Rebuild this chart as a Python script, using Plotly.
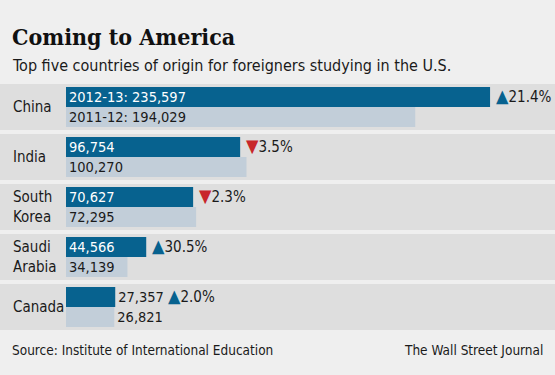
import plotly.graph_objects as go

countries = ["China", "India", "South<br>Korea", "Saudi<br>Arabia", "Canada"]
values_2012_13 = [235597, 96754, 70627, 44566, 27357]
values_2011_12 = [194029, 100270, 72295, 34139, 26821]
year_new = "2012-13"
year_old = "2011-12"

title = "Coming to America"
subtitle = "Top five countries of origin for foreigners studying in the U.S."
source = "Source: Institute of International Education"
credit = "The Wall Street Journal"

W, H = 555, 375
TOP, BOT = 82, 332
DARK = "#07628f"
LIGHT = "#c2ced9"
BAND = "#dedede"
BG = "#efefef"
RED = "#c8262b"
TXT = "#1a1a1a"
SANS = "DejaVu Sans Condensed, Roboto, sans-serif"
SERIF = "DejaVu Serif Condensed, DejaVu Serif, serif"

ypos = list(range(len(countries)))

def py(px):
    return (BOT - px) / (BOT - TOP)

new_text = [f"{year_new}: {values_2012_13[0]:,}"] + [f"{v:,}" for v in values_2012_13[1:]]
old_text = [f"{year_old}: {values_2011_12[0]:,}"] + [f"{v:,}" for v in values_2011_12[1:]]
pos = ["inside"] * (len(countries) - 1) + ["outside"]

fig = go.Figure()
fig.add_trace(go.Bar(
    y=ypos, x=values_2012_13, orientation="h", marker=dict(color=DARK, line=dict(width=0)),
    text=new_text, textposition=pos, insidetextanchor="start", textangle=0,
    constraintext="none", insidetextfont=dict(color="white", size=14.5, family=SANS),
    outsidetextfont=dict(color=TXT, size=14.5, family=SANS), cliponaxis=False, hoverinfo="skip"))
fig.add_trace(go.Bar(
    y=ypos, x=values_2011_12, orientation="h", marker=dict(color=LIGHT, line=dict(width=0)),
    text=old_text, textposition=pos, insidetextanchor="start", textangle=0,
    constraintext="none", insidetextfont=dict(color=TXT, size=14.5, family=SANS),
    outsidetextfont=dict(color=TXT, size=14.5, family=SANS), cliponaxis=False, hoverinfo="skip"))

shapes = []
for i in ypos:
    shapes.append(dict(type="rect", xref="paper", yref="y", x0=0, x1=1, y0=i - 0.46, y1=i + 0.46,
                       fillcolor=BAND, line=dict(width=0), layer="below"))

ann = []
for i, c in enumerate(countries):
    ann.append(dict(xref="paper", yref="y", x=11 / W, y=i, text=c, showarrow=False,
                    xanchor="left", yanchor="middle", align="left",
                    font=dict(family=SANS, size=15, color=TXT)))
    ch = (values_2012_13[i] / values_2011_12[i] - 1) * 100
    col = DARK if ch >= 0 else RED
    sym = "▲" if ch >= 0 else "▼"
    tri = f"<span style='color:{col};font-size:18px'>{sym}</span>"
    shift = 4 if i < len(countries) - 1 else 51
    ann.append(dict(xref="x", yref="y", x=values_2012_13[i], y=i - 0.2, text=f"{tri}{abs(ch):.1f}%",
                    showarrow=False, xanchor="left", yanchor="middle", xshift=shift, yshift=2,
                    font=dict(family=SANS, size=15, color=TXT)))

ann += [
    dict(xref="paper", yref="paper", x=10 / W, y=py(36), text=f"<b>{title}</b>", showarrow=False,
         xanchor="left", yanchor="middle", font=dict(family=SERIF, size=23, color="#111")),
    dict(xref="paper", yref="paper", x=10 / W, y=py(66), text=subtitle, showarrow=False,
         xanchor="left", yanchor="middle", font=dict(family=SANS, size=16, color=TXT)),
    dict(xref="paper", yref="paper", x=10 / W, y=py(350), text=source, showarrow=False,
         xanchor="left", yanchor="middle", font=dict(family=SANS, size=13.5, color=TXT)),
    dict(xref="paper", yref="paper", x=545 / W, y=py(350), text=credit, showarrow=False,
         xanchor="right", yanchor="middle", font=dict(family=SANS, size=13.5, color=TXT)),
]

scale = 0.0018  # px per student
fig.update_layout(
    width=W, height=H, margin=dict(l=0, r=0, t=TOP, b=H - BOT),
    paper_bgcolor=BG, plot_bgcolor=BG, showlegend=False,
    barmode="group", bargap=0.2, bargroupgap=0,
    xaxis=dict(range=[-66 / scale, (W - 66) / scale], visible=False, fixedrange=True),
    yaxis=dict(range=[len(countries) - 0.5, -0.5], visible=False, fixedrange=True),
    shapes=shapes, annotations=ann,
)
fig.write_html("out.html", config={"displayModeBar": False},
               post_script="document.body.style.margin='0';document.body.style.background='#efefef';")
